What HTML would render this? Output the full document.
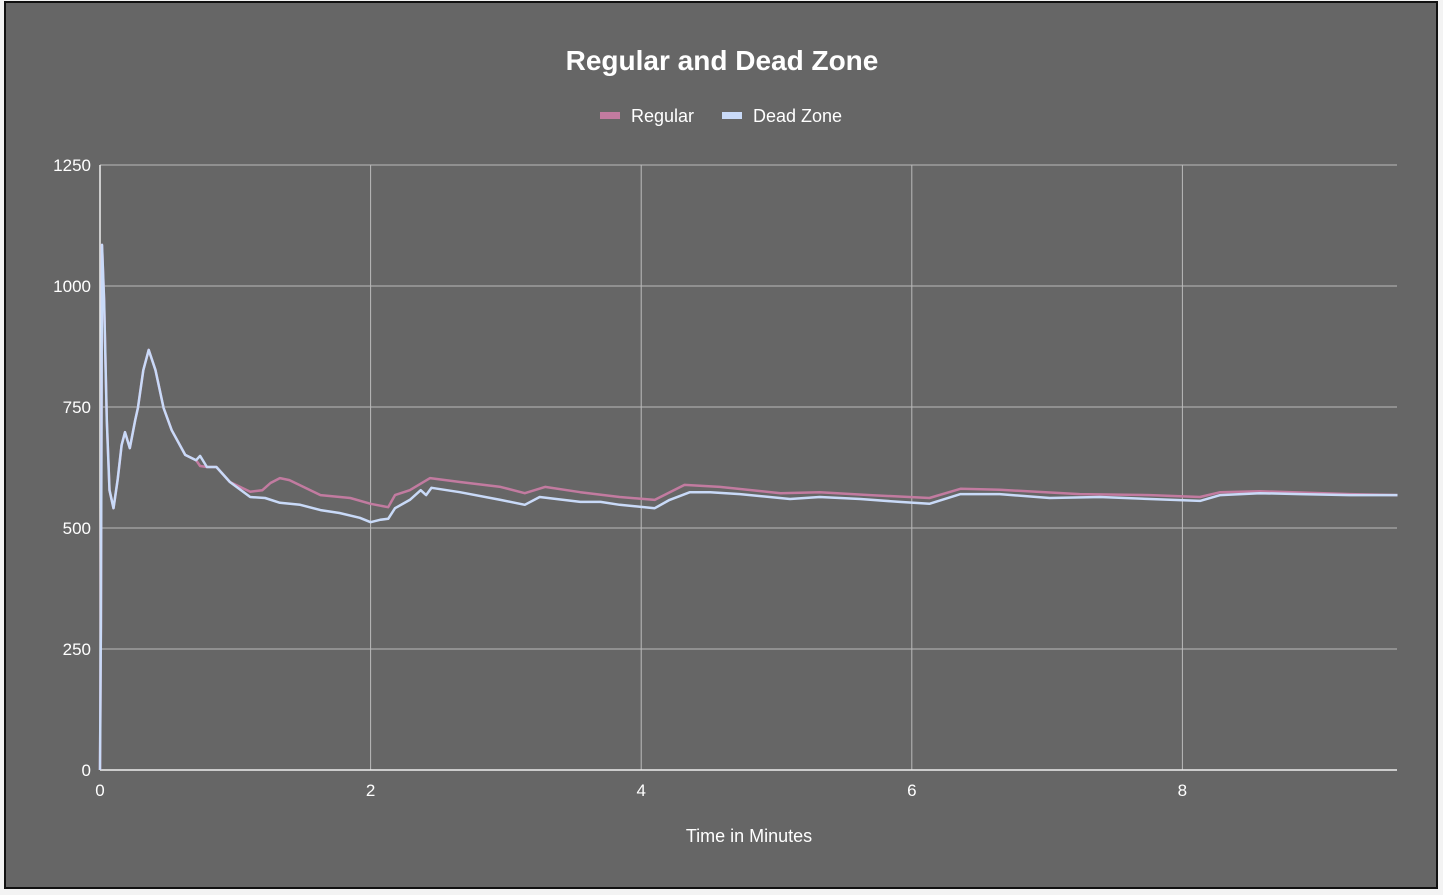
<!DOCTYPE html>
<html><head><meta charset="utf-8"><style>
html,body{margin:0;padding:0;background:#f3f3f3;}
body{width:1443px;height:895px;overflow:hidden;font-family:"Liberation Sans",Arial,sans-serif;}
#frame{position:absolute;left:4px;top:1px;width:1434px;height:888px;background:#666;border:2px solid #111;box-sizing:border-box;}
svg{position:absolute;left:0;top:0;}
</style></head><body>
<div id="frame"></div>
<svg id="chart" width="1443" height="895"></svg>
<script>
const yTicks=[0,250,500,750,1000,1250];
const xTicks=[0,2,4,6,8];
const deadT=[0,0.007,0.015,0.03,0.05,0.07,0.1,0.13,0.16,0.185,0.22,0.26,0.28,0.32,0.36,0.41,0.47,0.53,0.63,0.71,0.74,0.79,0.86,0.96,1.11,1.22,1.33,1.48,1.63,1.77,1.92,2.0,2.07,2.13,2.18,2.29,2.37,2.41,2.45,2.66,2.96,3.14,3.25,3.55,3.7,3.84,4.1,4.21,4.36,4.51,4.73,5.1,5.32,5.62,5.91,6.13,6.36,6.65,7.02,7.39,7.76,8.13,8.28,8.57,8.87,9.24,9.59];
const deadV=[0,300,1085,970,723,578,541,599,671,698,665,723,748,826,868,826,748,702,651,640,649,626,626,595,564,562,552,548,537,531,521,512,517,519,541,558,578,568,583,574,558,548,564,554,554,548,541,558,574,574,570,560,564,560,554,550,570,570,562,564,560,556,568,572,570,568,568];
const regT=[0,0.007,0.015,0.03,0.05,0.07,0.1,0.13,0.16,0.185,0.22,0.26,0.28,0.32,0.36,0.41,0.47,0.53,0.63,0.71,0.74,0.79,0.86,0.96,1.11,1.2,1.26,1.33,1.4,1.63,1.85,2.0,2.13,2.18,2.29,2.44,2.66,2.96,3.14,3.29,3.55,3.84,4.1,4.32,4.58,5.03,5.32,5.69,6.13,6.36,6.65,7.24,7.76,8.13,8.28,8.57,9.24,9.59];
const regV=[0,300,1085,970,723,578,541,599,671,698,665,723,748,826,868,826,748,702,651,640,628,626,626,595,575,578,593,603,599,568,562,550,543,568,578,603,595,585,572,585,574,564,558,589,585,572,574,568,562,581,579,570,568,564,574,576,570,568];
const svg=document.getElementById('chart');const NS='http://www.w3.org/2000/svg';
const L=100,R=1397,T=165,B=770,YMAX=1250;
const X=t=>L+t*135.3;
const Y=v=>B-v/YMAX*(B-T);
function mk(tag,a,txt){const e=document.createElementNS(NS,tag);for(const k in a)e.setAttribute(k,a[k]);if(txt!=null)e.textContent=txt;svg.appendChild(e);return e;}
let e;
e=mk('text',{x:722,y:70,'text-anchor':'middle','font-size':28,'font-weight':'bold',fill:'#fff'},'Regular and Dead Zone');


yTicks.forEach(v=>{
 e=mk('line',{x1:L,x2:R,y1:Y(v),y2:Y(v),stroke:'#bbb','stroke-width':1});
 
 
 e=mk('text',{x:91,y:Y(v)+6,'text-anchor':'end','font-size':17,fill:'#fff'},String(v));
 
 
});
xTicks.forEach(t=>{
 if(t>0){e=mk('line',{x1:X(t),x2:X(t),y1:T,y2:B,stroke:'#bbb','stroke-width':1});
 
 }
 e=mk('text',{x:X(t),y:796,'text-anchor':'middle','font-size':17,fill:'#fff'},String(t));
 
 
});
e=mk('line',{x1:L,x2:L,y1:T,y2:B,stroke:'#eee','stroke-width':1.5});


e=mk('line',{x1:L,x2:R,y1:B,y2:B,stroke:'#eee','stroke-width':1.5});


function path(ts,vs){return ts.map((t,i)=>(i?'L':'M')+X(t).toFixed(1)+','+Y(vs[i]).toFixed(1)).join(' ');}
e=mk('path',{d:path(regT,regV),fill:'none',stroke:'#c27ba0','stroke-width':2.5,'stroke-linejoin':'round'});


e=mk('path',{d:path(deadT,deadV),fill:'none',stroke:'#c9daf8','stroke-width':2.5,'stroke-linejoin':'round'});


e=mk('rect',{x:600,y:112,width:20,height:7,fill:'#c27ba0'});


e=mk('text',{x:631,y:122,'font-size':18,fill:'#fff'},'Regular');


e=mk('rect',{x:722,y:112,width:20,height:7,fill:'#c9daf8'});


e=mk('text',{x:753,y:122,'font-size':18,fill:'#fff'},'Dead Zone');


e=mk('text',{x:749,y:842,'text-anchor':'middle','font-size':18,fill:'#fff'},'Time in Minutes');


</script>
</body></html>
